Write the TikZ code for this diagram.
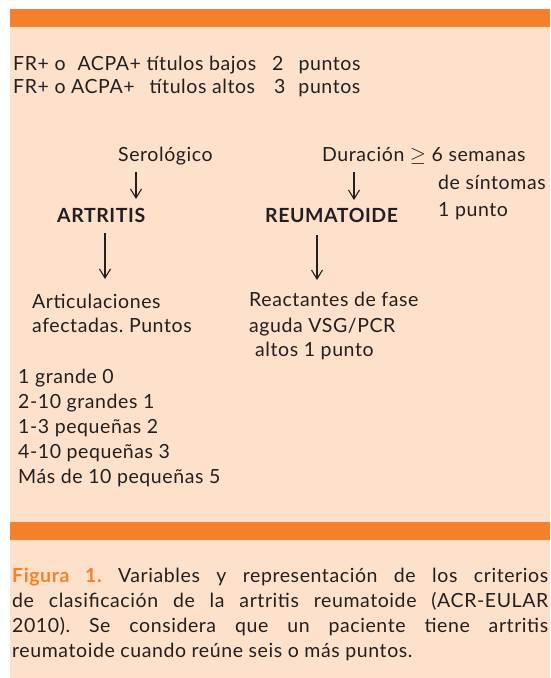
\documentclass[tikz,border=0pt]{standalone}
\usepackage{fontspec}
\setmainfont{Lato}[LetterSpace=3]
\usetikzlibrary{arrows.meta}
\usetikzlibrary{calc}

\definecolor{naranja}{HTML}{F5802A}
\definecolor{fondo}{HTML}{FDE1CA}
\definecolor{tinta}{HTML}{231F20}

\begin{document}
\frenchspacing
\begin{tikzpicture}[x=1pt,y=-1pt,
    txt/.style={anchor=base west, inner sep=0pt, text=tinta, font=\fontsize{19.5}{24}\selectfont},
    negrita/.style={txt, font=\fontsize{19.5}{24}\selectfont\bfseries},
    flecha/.style={-{Straight Barb[length=9pt,width=11pt]}, line width=1.1pt, draw=tinta}]
    % 背景与色条
    \useasboundingbox (0,0) rectangle (550,678);
    \fill[white] (0,0) rectangle (550,678);
    \fill[fondo] (10,9) rectangle (550,678);
    \fill[naranja] (10,9) rectangle (550,27);
    \fill[naranja] (10,522) rectangle (550,540);

    \node[txt] (fr1) at (13,70) {FR+ o\hspace{12pt}ACPA+ títulos bajos\hspace{16pt}2\hspace{15pt}puntos};
    \node[txt] (fr2) at (13,93) {FR+ o ACPA+\hspace{15pt}títulos altos\hspace{19pt}3\hspace{13pt}puntos};

    % 标题行
\node[txt] (serol) at (118,161) {Serológico};
\node[txt] (durac) at (322,161) {Duración $\geq$ 6 semanas};
\node[txt] (sint) at (438,189) {de síntomas};
\node[txt] (punto) at (438,216) {1 punto};
\node[negrita] (artritis) at (57,222) {ARTRITIS};
\node[negrita] (reuma) at (265,222) {REUMATOIDE};

\node[txt] (artic) at (32,308) {Articulaciones};
\node[txt] (afect) at (32,332) {afectadas. Puntos};
\node[txt] (react) at (249,306) {Reactantes de fase};
\node[txt] (aguda) at (249,332) {aguda VSG/PCR};
\node[txt] (altos) at (255,356) {altos 1 punto};

\foreach \t [count=\i] in {1 grande 0, 2-10 grandes 1, 1-3 pequeñas 2, 4-10 pequeñas 3, Más de 10 pequeñas 5}
    \node[txt] (lista\i) at (18,{358+25*\i}) {\t};

    % 箭头
\coordinate (c1) at (136,0);
\coordinate (c2) at (354,0);
\coordinate (c3) at (105,0);
\coordinate (c4) at (317,0);
\draw[flecha] ($(serol.base -| c1)+(0,11)$) -- ($(artritis.base -| c1)+(0,-23)$);
\draw[flecha] ($(durac.base -| c2)+(0,11)$) -- ($(reuma.base -| c2)+(0,-22)$);
\draw[flecha] ($(artritis.base -| c3)+(0,11)$) -- ($(artic.base -| c3)+(0,-29)$);
\draw[flecha] ($(reuma.base -| c4)+(0,13)$) -- ($(react.base -| c4)+(0,-26)$);

    % 图注
\node[txt] (cap1) at (12,582) {\makebox[536pt][s]{{\color{naranja}\bfseries Figura 1.} Variables y representación de los criterios}};
\node[txt] (cap2) at (12,607) {\makebox[536pt][s]{de clasificación de la artritis reumatoide (ACR-EULAR}};
\node[txt] (cap3) at (12,632) {\makebox[536pt][s]{2010). Se considera que un paciente tiene artritis}};
\node[txt] (cap4) at (12,657) {reumatoide cuando reúne seis o más puntos.};
\end{tikzpicture}
\end{document}
